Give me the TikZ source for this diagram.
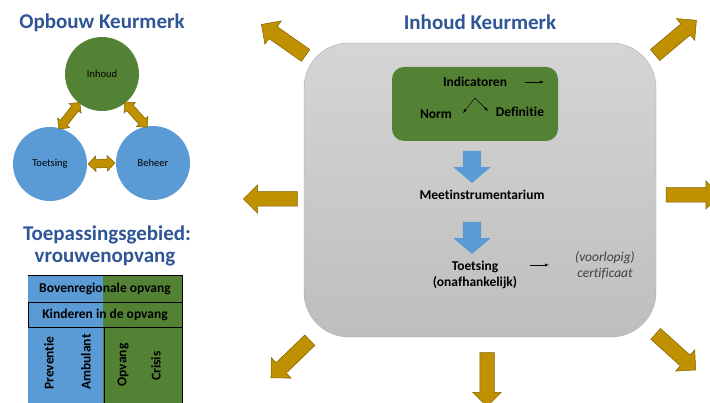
\documentclass[tikz,border=0pt]{standalone}
\usepackage{fontspec}
\setmainfont{Carlito}[Ligatures={NoCommon}]
\usetikzlibrary{shapes.arrows,calc}

\definecolor{titleblue}{HTML}{2F5597}
\definecolor{leafgreen}{HTML}{548235}
\definecolor{skyblue}{HTML}{5B9BD5}
\definecolor{gold}{HTML}{BF9000}
\definecolor{golddark}{HTML}{7F6000}
\definecolor{boxtop}{HTML}{D5D5D5}
\definecolor{boxbot}{HTML}{BEBEBE}
\definecolor{notegray}{HTML}{404040}

\tikzset{
  heading/.style={font=\bfseries\fontsize{21}{24}\selectfont, text=titleblue},
  bubble/.style={circle, minimum size=74, inner sep=0, font=\fontsize{10.5}{12}\selectfont},
  goldarrow/.style={single arrow, draw=golddark, fill=gold, line width=0.5,
    minimum height=54, single arrow head extend=7, inner sep=7},
  linkarrow/.style={double arrow, draw=golddark, fill=gold, line width=0.5,
    double arrow head extend=3.5, inner sep=4, sloped},
  downarrow/.style={single arrow, fill=skyblue, minimum height=32,
    single arrow head extend=9.5, single arrow tip angle=100, inner sep=9, rotate=-90},
  itemtext/.style={font=\bfseries\fontsize{13.5}{16}\selectfont, align=center},
  cell/.style={font=\bfseries\fontsize{13.5}{16}\selectfont},
}

\begin{document}
\begin{tikzpicture}[x=1pt,y=1pt]
\useasboundingbox (0,0) rectangle (710,403);

% opbouw
\node[heading] (opbouw) at (102,380) {Opbouw Keurmerk};
\node[bubble, fill=leafgreen] (inhoud) at (102,329) {Inhoud};
\node[bubble, fill=skyblue] (toetsing) at (50,239) {Toetsing};
\node[bubble, fill=skyblue] (beheer) at (153,240) {Beheer};
\path (inhoud.232) -- node[linkarrow, minimum height=34] (linkIT) {} (toetsing.75);
\path (inhoud.309) -- node[linkarrow, minimum height=34] (linkIB) {} (beheer.100);
\path (toetsing.0) -- node[linkarrow, minimum height=27] (linkTB) {} (beheer.180);

% toepassingsgebied
\node[heading] (toepas) at (107,168) {Toepassingsgebied:};
\node[heading] (vrouwen) at (105,144) {vrouwenopvang};
\fill[skyblue] (28,0) rectangle (103,128);
\fill[leafgreen] (103,0) rectangle (182,128);
\draw[line width=0.8] (28,128) -- (182,128) -- (182,0);
\draw[line width=0.8] (28,76) rectangle (182,101);
\draw[line width=0.8] (104,76) -- (104,0);
\node[cell] (boven) at (105,114) {Bovenregionale opvang};
\node[cell] (kind) at (105,88) {Kinderen in de opvang};
\node[cell, rotate=90] (prev) at (49,40) {Preventie};
\node[cell, rotate=90] (amb) at (86,41) {Ambulant};
\node[cell, rotate=90] (opv) at (123,38) {Opvang};
\node[cell, rotate=90] (crisis) at (156,37) {Crisis};

% inhoud keurmerk
\node[heading] (inhoudkm) at (480,381) {Inhoud Keurmerk};
\node[rounded corners=45, top color=boxtop, bottom color=boxbot, draw=boxbot!90!black,
  line width=0.4, minimum width=352, minimum height=294] (kader) at (480,213) {};
\node[rounded corners=12, fill=leafgreen, minimum width=166, minimum height=74] (kern) at (475,299) {};
\node[itemtext] (indic) at (475,321) {Indicatoren};
\node[itemtext] (norm) at (436,289) {Norm};
\node[itemtext] (defin) at (520,291) {Definitie};
\coordinate (split) at (475,305);
\coordinate (indicend) at (525,321);
\draw[-latex, thin] (indicend) -- ++(19,0);
\draw[-latex, thin] (split) -- (463,290);
\draw[-latex, thin] (split) -- (488,292);

\node[downarrow] (pijl1) at (472,240) {};
\node[itemtext] (meet) at (482,208) {Meetinstrumentarium};
\node[downarrow] (pijl2) at (472,169) {};
\node[itemtext] (toets) at (475,128) {Toetsing\\(onafhankelijk)};
\node[font=\itshape\fontsize{13.5}{16}\selectfont, text=notegray, align=center] (cert) at (605,138) {(voorlopig)\\certificaat};
\coordinate (toetsend) at (530,138);
\draw[-latex, thin] (toetsend) -- ++(19,0);

% pijlen naar buiten
\node[goldarrow, rotate=145] (arrNW) at (286.5,361) {};
\node[goldarrow, rotate=40] (arrNE) at (673,363) {};
\node[goldarrow, rotate=180] (arrW) at (274,204) {};
\node[goldarrow] (arrE) at (689.5,208) {};
\node[goldarrow, rotate=224] (arrSW) at (293,46.5) {};
\node[goldarrow, rotate=-90] (arrS) at (487,27) {};
\node[goldarrow, rotate=-42] (arrSE) at (673,53.5) {};
\end{tikzpicture}
\end{document}
